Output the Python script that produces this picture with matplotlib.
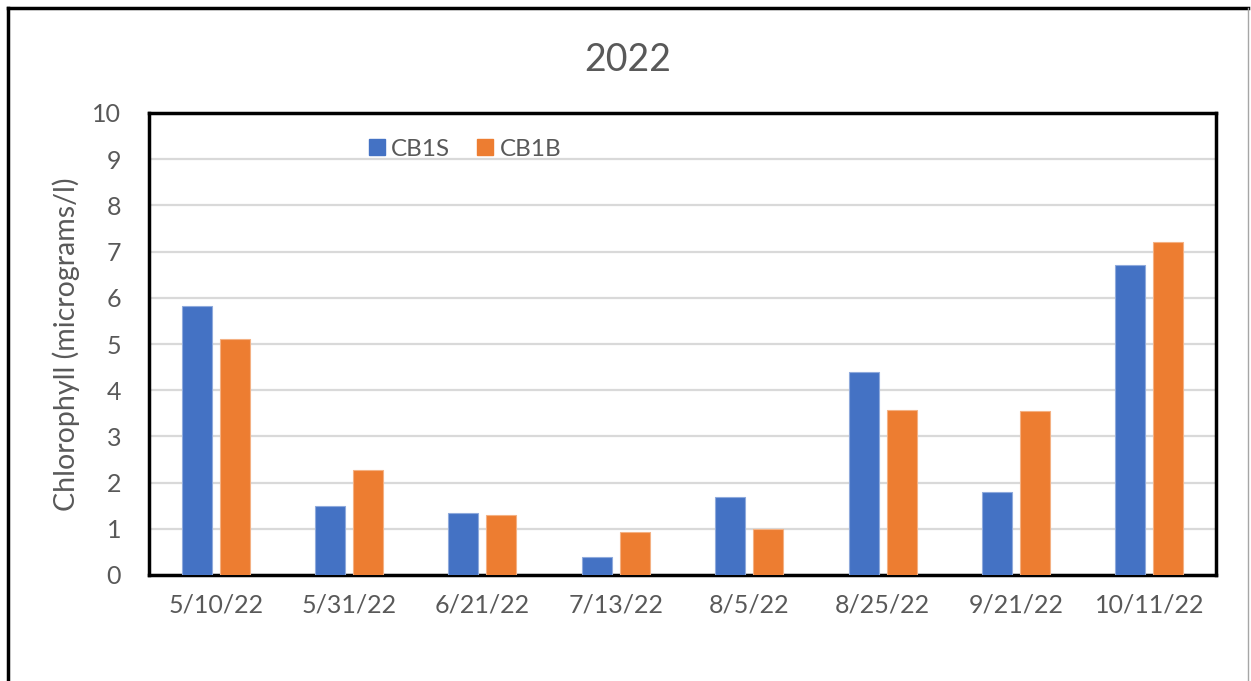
# Chlorophyll bar chart, 2022 sampling dates (CB1S surface vs CB1B bottom)

import matplotlib.pyplot as plt
import numpy as np
from matplotlib.lines import Line2D

# ---------------------------------------------------------------------------
# Data
# ---------------------------------------------------------------------------

dates = ["5/10/22", "5/31/22", "6/21/22", "7/13/22", "8/5/22", "8/25/22", "9/21/22", "10/11/22"]
cb1s = [5.82, 1.49, 1.34, 0.38, 1.69, 4.39, 1.79, 6.72]
cb1b = [5.10, 2.27, 1.29, 0.94, 1.00, 3.57, 3.54, 7.21]
y_ticks = list(range(0, 11))

# ---------------------------------------------------------------------------
# Style
# ---------------------------------------------------------------------------

BLUE = "#4472C4"
ORANGE = "#ED7D31"
TEXT = "#595959"
GRID = "#D9D9D9"
W, H = 1251, 681

plt.rcParams["font.family"] = ["Lato", "DejaVu Sans"]

fig = plt.figure(figsize=(W / 100, H / 100), dpi=100)
ax = fig.add_axes([149 / W, 1 - 575 / H, (1216 - 149) / W, (575 - 113) / H])

x = np.arange(len(dates))
bw = 0.225
off = (bw + 0.06) / 2
ax.bar(x - off, cb1s, bw, color=BLUE, edgecolor="#8FAADC", linewidth=0.8, label="CB1S", zorder=3)
ax.bar(x + off, cb1b, bw, color=ORANGE, edgecolor="#F4B183", linewidth=0.8, label="CB1B", zorder=3)

ax.set_xlim(-0.5, len(dates) - 0.5)
ax.set_ylim(0, 10)
ax.set_yticks(y_ticks)
ax.set_xticks(x)
ax.set_xticklabels(dates)
ax.tick_params(axis="both", length=0, labelsize=18, colors=TEXT)
ax.tick_params(axis="y", pad=20)
ax.tick_params(axis="x", pad=13)
ax.yaxis.grid(True, color=GRID, linewidth=1.6, zorder=0)
ax.set_axisbelow(True)
for s in ax.spines.values():
    s.set_color("black")
    s.set_linewidth(2.5)

ax.set_ylabel("Chlorophyll (micrograms/l)", fontsize=20.5, color=TEXT, labelpad=9)
fig.text(628 / W, 1 - 60 / H, "2022", ha="center", va="center", fontsize=27, color=TEXT)

# legend squares
handles = [
    Line2D([], [], marker="s", linestyle="none", markersize=11, color=BLUE),
    Line2D([], [], marker="s", linestyle="none", markersize=11, color=ORANGE),
]
fig.legend(
    handles,
    ["CB1S", "CB1B"],
    loc="center left",
    bbox_to_anchor=(368 / W, 1 - 149 / H),
    ncol=2,
    frameon=False,
    fontsize=17.5,
    labelcolor=TEXT,
    handlelength=0.7,
    handletextpad=0.25,
    columnspacing=1.1,
    borderpad=0,
    borderaxespad=0,
)

# outer chart border (bottom runs off the picture)
fig.add_artist(Line2D([8 / W, 8 / W], [0, 1 - 8 / H], color="black", linewidth=2.5, transform=fig.transFigure))
fig.add_artist(Line2D([8 / W, 1248 / W], [1 - 8 / H, 1 - 8 / H], color="black", linewidth=2.5, transform=fig.transFigure))
fig.add_artist(Line2D([1248 / W, 1248 / W], [0, 1 - 8 / H], color="#A6A6A6", linewidth=1, transform=fig.transFigure))

fig.savefig("out.png", dpi=100)
